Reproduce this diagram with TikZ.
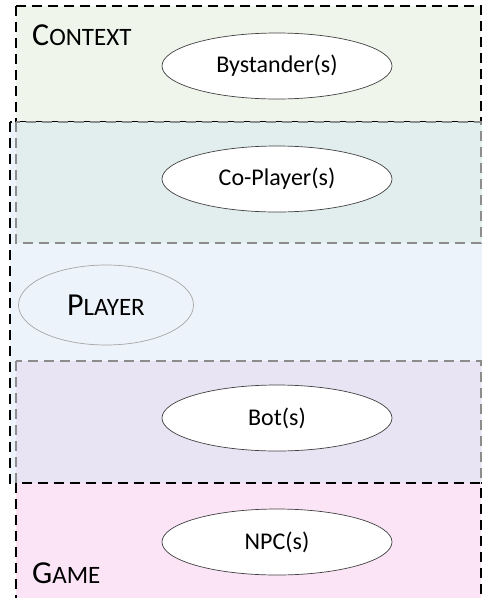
\documentclass[tikz,border=0pt]{standalone}
\usepackage{fontspec}
\setmainfont{Carlito}
\usetikzlibrary{shapes.geometric}

\definecolor{ctxgreen}{HTML}{EFF5EA}
\definecolor{coteal}{HTML}{E2EEEE}
\definecolor{plblue}{HTML}{ECF3FA}
\definecolor{botlav}{HTML}{E9E4F4}
\definecolor{gmpink}{HTML}{FBE4F6}

% big first letter, smaller rest (small caps look)
\newcommand\zonename[2]{{\fontsize{32}{32}\selectfont #1}{\fontsize{25}{25}\selectfont #2}}

\begin{document}
\begin{tikzpicture}[
    x=1pt, y=-1pt,
    outer/.style={draw=black, line width=1.7pt, dash pattern=on 10pt off 6pt},
    inner/.style={draw=gray!90, line width=1.7pt, dash pattern=on 10pt off 6pt},
    actor/.style={ellipse, draw=black!75, line width=0.7pt, fill=white, inner sep=0pt,
      minimum width=230pt, minimum height=66pt, font=\fontsize{24}{24}\selectfont},
    zlabel/.style={anchor=base west, inner sep=0pt},
  ]
  \clip (0,0) rectangle (482,598);

  % layers, back to front
  \fill[ctxgreen] (16,6) rectangle (481,122);
  \draw[outer] (16,6) rectangle (481,122);
  \fill[plblue] (10,122) rectangle (490,483);
  \draw[outer] (10,122) rectangle (490,483);
  \filldraw[coteal, inner] (16,122) rectangle (481,243);
  \filldraw[botlav, inner] (16,361) rectangle (481,483);
  \fill[gmpink] (16,483) rectangle (481,610);
  \draw[outer] (16,483) rectangle (481,610);

  % labels of the zones
  \node[zlabel] (context) at (32,45) {\zonename{C}{ONTEXT}};
  \node[zlabel] (game) at (32,583) {\zonename{G}{AME}};

  % actors
  \node[actor] (bystander) at (277,66) {Bystander(s)};
  \node[actor] (coplayer) at (277,179) {Co-Player(s)};
  \node[actor, draw=gray!70, fill=plblue, minimum width=175pt, minimum height=80pt]
    (player) at (106,305) {\zonename{P}{LAYER}};
  \node[actor] (bot) at (277,418) {Bot(s)};
  \node[actor] (npc) at (277,542) {NPC(s)};
\end{tikzpicture}
\end{document}
